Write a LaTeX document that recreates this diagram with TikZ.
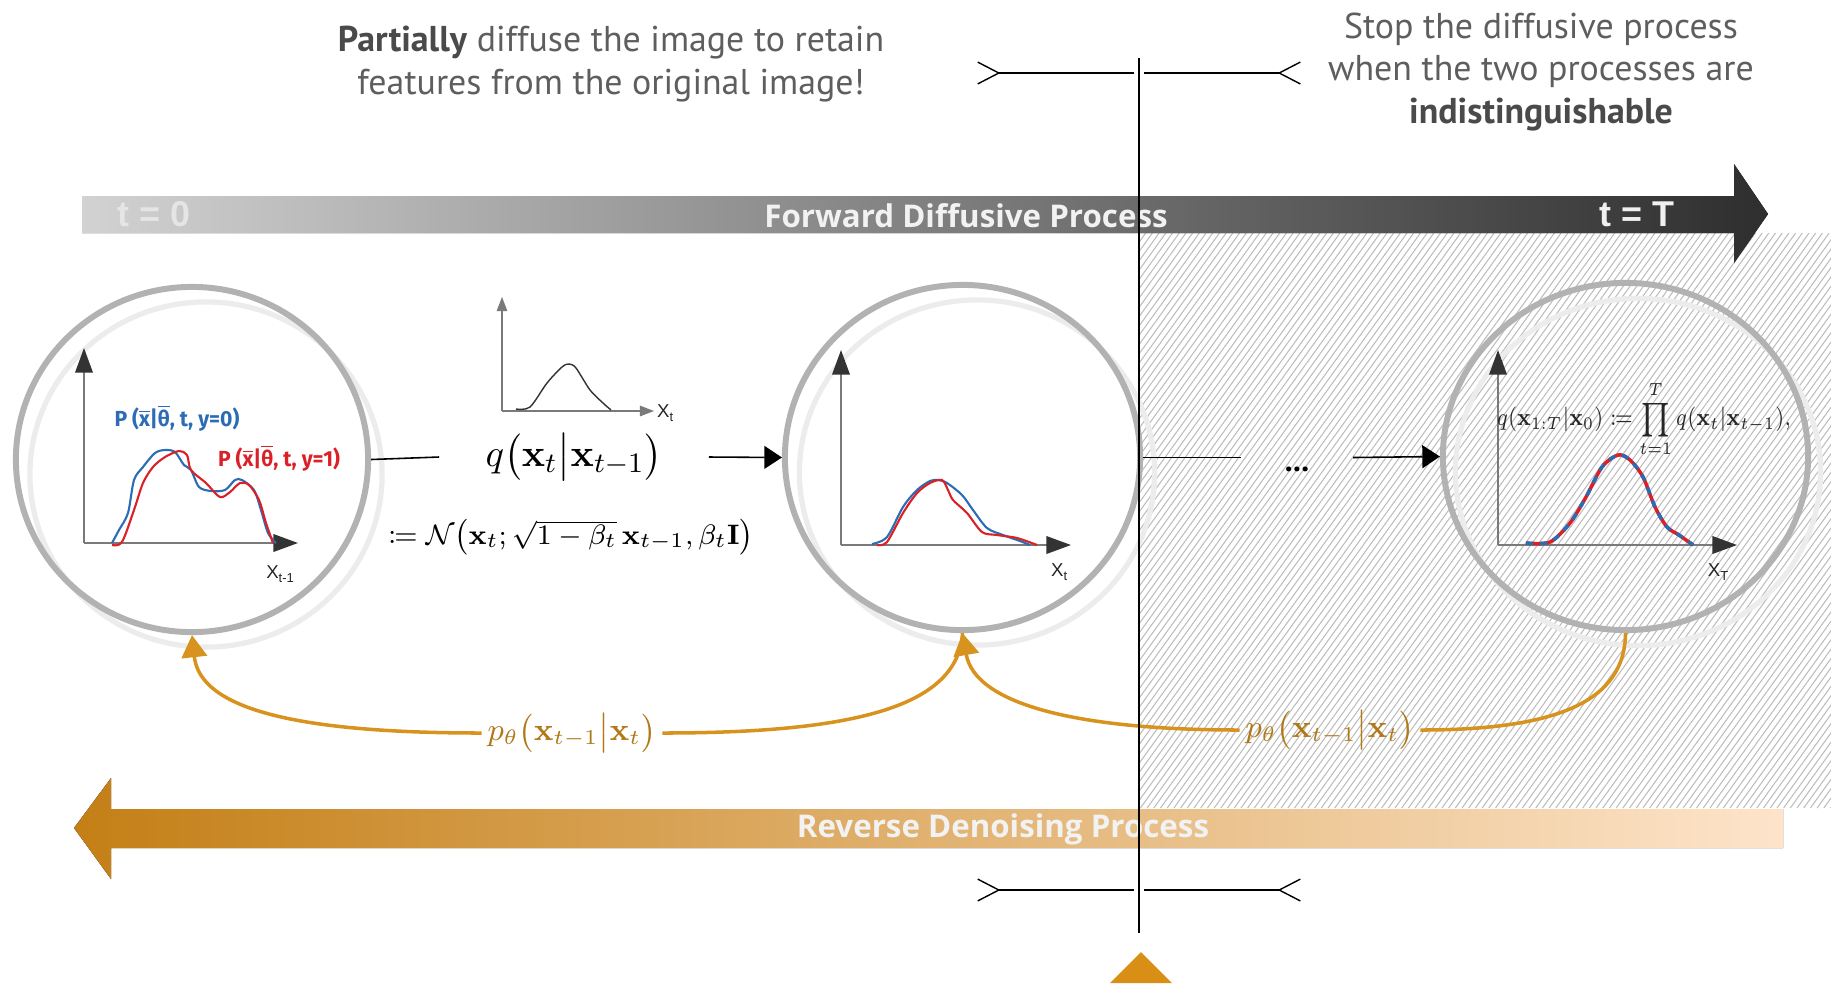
\documentclass[tikz,border=0pt]{standalone}
\usepackage{amsmath,amssymb,mathtools}
\usepackage[no-math]{fontspec}
\setmainfont{PT Sans}
\newfontfamily\tagfont{Liberation Sans}
\newfontfamily\curvefont{Fira Sans}
\newfontfamily\barfont{Open Sans}
\usepackage{graphicx}
\usepackage{tikz}
\usetikzlibrary{
  arrows.meta,
  positioning,
  shapes.geometric,
  calc,
}
\definecolor{capText}{HTML}{5E5E5E}
\definecolor{capBold}{HTML}{4A4A4A}
\definecolor{fwdLight}{HTML}{D2D2D2}
\definecolor{fwdDark}{HTML}{2E2E2E}
\definecolor{revDark}{HTML}{C47F16}
\definecolor{revLight}{HTML}{FDE4CA}
\definecolor{ringGray}{HTML}{B2B2B2}
\definecolor{ringLight}{HTML}{ECECEC}
\definecolor{axisGray}{HTML}{7A7A7A}
\definecolor{axisDark}{HTML}{333333}
\definecolor{densBlue}{HTML}{2B6CB5}
\definecolor{densRed}{HTML}{DA2128}
\definecolor{revLine}{HTML}{D8921E}
\definecolor{revText}{HTML}{B07816}
\definecolor{hatchGray}{HTML}{BDBDBD}
\definecolor{stopOrange}{HTML}{D98F15}
\tikzset{
  caption/.style={
    align=center, text=capText, inner sep=0pt,
    font=\fontsize{10.2}{12.1}\selectfont,
  },
  barLabel/.style={
    text=white!95!black, inner sep=0pt,
    font=\barfont\bfseries\fontsize{8.9}{10}\selectfont,
  },
  timeTag/.style={
    inner sep=0pt, font=\tagfont\bfseries\fontsize{10.2}{12}\selectfont,
  },
  ringMain/.style={
    ellipse, draw=ringGray, line width=1.7pt, inner sep=0pt,
  },
  ringShade/.style={
    ellipse, draw=ringLight, line width=1.5pt, inner sep=0pt,
  },
  axisArrow/.style={
    draw=axisGray, line width=0.5pt,
    -{Triangle[length=7pt,width=5pt,color=axisDark]},
  },
  axisSmall/.style={
    draw=axisGray, line width=0.35pt, -{Triangle[length=4pt,width=3pt]},
  },
  axisTag/.style={
    inner sep=0pt, text=black!85,
    font=\tagfont\fontsize{5.3}{6}\selectfont,
  },
  curveTag/.style={
    inner sep=0pt, font=\curvefont\bfseries\fontsize{6.2}{7}\selectfont,
  },
  flowLine/.style={draw=black, line width=0.45pt},
  flowArrow/.style={
    flowLine, -{Triangle[length=5pt,width=6.5pt]},
  },
  revCurve/.style={draw=revLine, line width=1pt},
  revArrow/.style={
    revCurve, -{Triangle[length=6.3pt,width=7.2pt]},
  },
  revTag/.style={
    text=revText, inner sep=1.5pt, font=\fontsize{9.1}{11}\selectfont,
  },
  dimLine/.style={draw=black, line width=0.4pt},
  hatchLine/.style={draw=hatchGray, line width=0.3pt},
}
\newcommand{\barred}[1]{$\overline{\mbox{#1}}$}

\begin{document}
\begin{tikzpicture}[x=0.01cm, y=-0.01cm]
\useasboundingbox (0,0) rectangle (1831,984);

% hatched zone past the stopping point
\begin{scope}
  \clip (1139,233) rectangle (1831,808);
  \foreach \k in {0,...,166}
    \draw[hatchLine] ({725+6.7*\k},808) -- ++(414,-575);
\end{scope}

% process bars
\fill[left color=fwdLight, right color=fwdDark]
  (82,196) -- (1734,196) -- (1734,164) -- (1768,214) -- (1734,263)
  -- (1734,233) -- (82,233) -- cycle;
\fill[left color=revDark, right color=revLight]
  (1783,809) -- (111,809) -- (111,778) -- (74,828) -- (111,879)
  -- (111,848) -- (1783,848) -- cycle;

\node[barLabel] (fwdTag) at (966,216) {Forward Diffusive Process};
\node[timeTag, text=white!90!black] (tZero) at (154,214) {t = 0};
\node[timeTag, text=white!94!black] (tEnd) at (1637,214) {t = T};
\node[barLabel] (revTag) at (1003,829) {Reverse Denoising Process};

\node[caption] (capLeft) at (611,64)
  {\textcolor{capBold}{\textbf{Partially}} diffuse the image to retain\\
   features from the original image!};
\node[caption] (capRight) at (1541,72)
  {Stop the diffusive process\\
   when the two processes are\\
   \textcolor{capBold}{\textbf{indistinguishable}}};

% state circles
\node[ringShade, minimum width=3.52cm, minimum height=3.45cm] (c1s) at (206,474.5) {};
\node[ringShade, minimum width=3.55cm, minimum height=3.45cm] (c2s) at (977,472.5) {};
\node[ringShade, minimum width=3.65cm, minimum height=3.47cm] (c3s) at (1638,472) {};
\node[ringMain, minimum width=3.52cm, minimum height=3.45cm] (c1) at (192,459.5) {};
\node[ringMain, minimum width=3.55cm, minimum height=3.45cm] (c2) at (962.5,457.5) {};
\node[ringMain, minimum width=3.65cm, minimum height=3.47cm] (c3) at (1625.5,456.5) {};

% x_{t-1}
\coordinate (o1) at (84,543);
\draw[axisArrow] (o1) -- (84,348);
\draw[axisArrow] (o1) -- (298,543);
\draw[densBlue, line width=0.6pt] plot[smooth, tension=0.5] coordinates {
  (112,543) (119,530) (128,513) (134,480) (143,467) (155,453) (165,450)
  (175,452) (184,465) (191,470) (199,487) (211,491) (225,490) (235,480)
  (242,480) (254,490) (261,510) (268,533) (276,543)};
\draw[densRed, line width=0.6pt] plot[smooth, tension=0.5] coordinates {
  (112,545) (122,542) (134,510) (143,483) (153,467) (165,457) (179,451)
  (187,455) (191,470) (206,483) (220,497) (230,492) (240,483) (249,485)
  (259,500) (266,523) (273,543)};
\node[curveTag, text=densBlue] (lblBlue) at (177,418)
  {\scalebox{0.97}[1]{P (\barred{x}|\barred{θ}, t, y=0)}};
\node[curveTag, text=densRed] (lblRed) at (279,458)
  {\scalebox{0.97}[1]{P (\barred{x}|\barred{θ}, t, y=1)}};
\node[axisTag] (tagL) at (281,574) {X\textsubscript{t-1}};

% small gaussian
\coordinate (o0) at (502,411);
\draw[axisSmall] (o0) -- (502,297);
\draw[axisSmall] (o0) -- (654,411);
\draw[axisDark, line width=0.4pt] plot[smooth] coordinates {
  (516,409) (530,407) (547,383) (562,367) (569,364) (576,368) (590,390)
  (603,403) (611,410)};
\node[axisTag] (tagS) at (666,413) {X\textsubscript{t}};

% x_t
\coordinate (o2) at (841,545);
\draw[axisArrow] (o2) -- (841,350);
\draw[axisArrow] (o2) -- (1071,545);
\draw[densBlue, line width=0.6pt] plot[smooth, tension=0.5] coordinates {
  (872,544) (887,537) (903,507) (917,490) (930,481) (938,480) (947,483)
  (962,495) (973,510) (987,528) (1003,535) (1020,541) (1030,545)};
\draw[densRed, line width=0.6pt] plot[smooth, tension=0.5] coordinates {
  (877,545) (887,542) (903,513) (917,493) (930,483) (942,480) (948,490)
  (953,500) (967,513) (982,532) (997,535) (1017,538) (1037,545)};
\node[axisTag] (tagM) at (1060,572) {X\textsubscript{t}};

% x_T
\coordinate (o3) at (1498,545);
\draw[axisArrow] (o3) -- (1498,350);
\draw[axisArrow] (o3) -- (1737,545);
\draw[densRed, line width=1pt] plot[smooth] coordinates {
  (1526,543) (1550,542) (1570,523) (1586,497) (1602,467) (1618,455)
  (1630,460) (1643,477) (1655,507) (1667,527) (1679,535) (1693,545)};
\draw[densBlue, line width=1pt, dash pattern=on 2pt off 2pt] plot[smooth] coordinates {
  (1526,543) (1550,542) (1570,523) (1586,497) (1602,467) (1618,455)
  (1630,460) (1643,477) (1655,507) (1667,527) (1679,535) (1693,545)};
\node[inner sep=0pt, text=black!85, font=\fontsize{6.8}{9}\selectfont] (chain) at (1644,419)
  {\scalebox{0.82}[1]{$\displaystyle q(\mathbf{x}_{1:T}|\mathbf{x}_0) \coloneqq \prod_{t=1}^{T} q(\mathbf{x}_t|\mathbf{x}_{t-1}),$}};
\node[axisTag] (tagR) at (1719,572) {X\textsubscript{T}};

% forward steps
\node[inner xsep=13pt, inner ysep=2pt, font=\fontsize{11}{13}\selectfont] (qStep) at (574,457)
  {$q\bigl(\mathbf{x}_t \big| \mathbf{x}_{t-1}\bigr)$};
\node[inner sep=0pt, font=\fontsize{8.5}{10}\selectfont] (qDef) at (571,537)
  {$\coloneqq \mathcal{N}\bigl(\mathbf{x}_t; \sqrt{1-\beta_t}\,\mathbf{x}_{t-1}, \beta_t\mathbf{I}\bigr)$};
\node[inner xsep=12.3pt, inner ysep=0pt, text height=7.8pt, text depth=0pt,
      font=\bfseries\fontsize{9}{10}\selectfont] (dots) at (1297,457.5) {...};

\draw[flowLine] (c1.east) -- (qStep.west);
\draw[flowArrow] (qStep.east) -- (c2.west);
\draw[flowLine] (c2.east) -- (dots.west);
\draw[flowArrow] (dots.east) -- (c3.west);

% reverse steps
\node[revTag] (pLeft) at (572,733)
  {$p_\theta\bigl(\mathbf{x}_{t-1}\big|\mathbf{x}_t\bigr)$};
\node[revTag] (pRight) at (1330,730)
  {$p_\theta\bigl(\mathbf{x}_{t-1}\big|\mathbf{x}_t\bigr)$};

\draw[revCurve] (c2.south) .. controls (958,705) and (860,733) .. (pLeft.east);
\draw[revArrow] (pLeft.west) .. controls (300,733) and (200,710) .. (c1.south);
\draw[revCurve] (c3.south) .. controls (1625,700) and (1560,730) .. (pRight.east);
\draw[revArrow] (pRight.west) .. controls (1080,730) and (975,705) .. (c2.south);

% stopping point
\coordinate (stopTop) at (1139,58);
\coordinate (stopBot) at (1139,933);
\draw[line width=0.7pt] (stopTop) -- (stopBot);

\coordinate (dimTL) at (977,73);
\coordinate (dimTA) at (1134,73);
\coordinate (dimTB) at (1144,73);
\coordinate (dimTR) at (1301,73);
\draw[dimLine, {Straight Barb[reversed,length=6pt,width=6.2pt]}-] (dimTL) -- (dimTA);
\draw[dimLine, -{Straight Barb[reversed,length=6pt,width=6.2pt]}] (dimTB) -- (dimTR);

\coordinate (dimBL) at (977,890);
\coordinate (dimBA) at (1134,890);
\coordinate (dimBB) at (1144,890);
\coordinate (dimBR) at (1301,890);
\draw[dimLine, {Straight Barb[reversed,length=6pt,width=6.2pt]}-] (dimBL) -- (dimBA);
\draw[dimLine, -{Straight Barb[reversed,length=6pt,width=6.2pt]}] (dimBB) -- (dimBR);

\fill[stopOrange] (1110,983) -- (1141,952) -- (1172,983) -- cycle;

\end{tikzpicture}
\end{document}
